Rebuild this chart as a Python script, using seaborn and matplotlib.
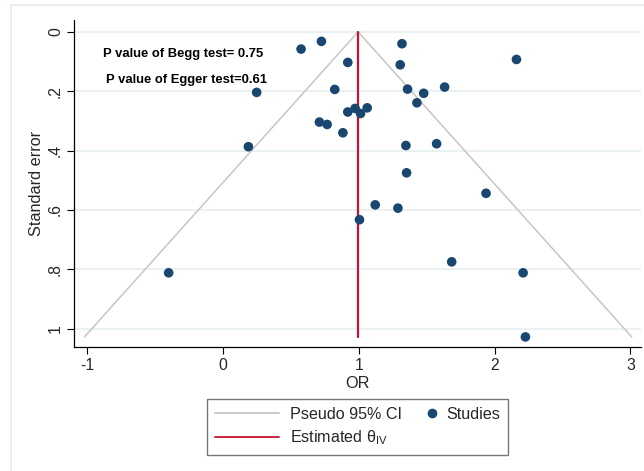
import numpy as np
import pandas as pd
import matplotlib
matplotlib.use("Agg")
import matplotlib.pyplot as plt
from matplotlib.lines import Line2D
from matplotlib.patches import Rectangle
from matplotlib.legend_handler import HandlerLine2D
import seaborn as sns

# ---- data ----
or_vals = [0.575, 0.725, 0.248, 0.187, 0.710, 0.767, 0.919, 0.823, 0.919, 0.973,
           1.013, 1.062, 0.883, 1.318, 1.305, 1.359, 1.478, 1.428, 1.632, 2.161,
           1.347, 1.573, 1.352, 1.937, 1.121, 1.288, 1.005, -0.400, 1.684, 2.210,
           2.227]
se_vals = [0.058, 0.032, 0.204, 0.387, 0.304, 0.312, 0.103, 0.194, 0.270, 0.258,
           0.275, 0.256, 0.340, 0.040, 0.111, 0.193, 0.207, 0.239, 0.186, 0.093,
           0.383, 0.377, 0.475, 0.544, 0.583, 0.594, 0.633, 0.812, 0.775, 0.812,
           1.028]
theta_iv = 0.995
x_ticks = [-1, 0, 1, 2, 3]
y_ticks = [0, 0.2, 0.4, 0.6, 0.8, 1.0]
y_ticklabels = ["0", ".2", ".4", ".6", ".8", "1"]
begg_text = "P value of Begg test= 0.75"
egger_text = "P value of Egger test=0.61"

df = pd.DataFrame({"OR": or_vals, "SE": se_vals})

sns.set_theme(style="white")
plt.rcParams["font.family"] = ["Liberation Sans", "DejaVu Sans"]
plt.rcParams["mathtext.fontset"] = "custom"
plt.rcParams["mathtext.rm"] = "Liberation Sans"
plt.rcParams["mathtext.it"] = "Liberation Sans:italic"

NAVY = "#1a476f"
GREY = "#c6c6c6"
RED = "#c4122f"

fig = plt.figure(figsize=(6.44, 4.71), dpi=100)
fig.patch.set_facecolor("white")
# light outer frame
fig.patches.append(Rectangle((11 / 644, -0.1), 1.2, (471 - 5) / 471 + 0.1,
                             transform=fig.transFigure, fill=False,
                             edgecolor="#e4ecee", linewidth=1.2))

ax = fig.add_axes([74 / 644, (471 - 347.3) / 471, (641 - 74) / 644, (347.3 - 20) / 471])
ax.set_facecolor("white")

# horizontal grid
for yt in y_ticks:
    ax.axhline(yt, color="#eaf1f3", linewidth=1.5, zorder=0)

# pseudo 95% CI funnel
se_max = max(se_vals)
fun = pd.DataFrame({
    "x": [theta_iv - 1.96 * se_max, theta_iv, theta_iv + 1.96 * se_max],
    "y": [se_max, 0.0, se_max],
})
ax.plot(fun["x"], fun["y"], color=GREY, linewidth=1.1, zorder=1)

# estimated theta line
ax.plot([theta_iv, theta_iv], [0, se_max], color=RED, linewidth=1.6, zorder=2)

sns.scatterplot(data=df, x="OR", y="SE", ax=ax, color=NAVY, s=48,
                edgecolor="none", zorder=3, legend=False)

ax.set_xlim(-1.097, 3.078)
ax.set_ylim(1.063, -0.04)

ax.set_xticks(x_ticks)
ax.set_xticklabels([str(t) for t in x_ticks], fontsize=11.3)
ax.set_yticks(y_ticks)
ax.set_yticklabels(y_ticklabels, fontsize=11.3, rotation=90, va="center")
ax.tick_params(axis="both", direction="out", length=5, width=0.8, color="black",
               left=True, bottom=True, pad=3)
ax.tick_params(axis="y", pad=3)

ax.set_xlabel("OR", fontsize=11.7, labelpad=2)
ax.set_ylabel("Standard error", fontsize=11.7, labelpad=3)

for side in ["top", "right"]:
    ax.spines[side].set_visible(False)
for side in ["left", "bottom"]:
    ax.spines[side].set_color("black")
    ax.spines[side].set_linewidth(0.9)

ax.text(-0.885, 0.075, begg_text, fontsize=9.4, fontweight="bold",
        ha="left", va="center", color="black")
ax.text(-0.863, 0.163, egger_text, fontsize=9.4, fontweight="bold",
        ha="left", va="center", color="black")


class NarrowMarkerHandler(HandlerLine2D):
    def legend_artist(self, legend, orig_handle, fontsize, handlebox):
        handlebox.width = 0.4 * fontsize
        return super().legend_artist(legend, orig_handle, fontsize, handlebox)


h_ci = Line2D([0], [0], color=GREY, linewidth=1.3)
h_est = Line2D([0], [0], color=RED, linewidth=1.3)
h_stud = Line2D([0], [0], marker="o", linestyle="none", markerfacecolor=NAVY,
                markeredgecolor="none", markersize=7)
handles = [h_ci, h_est, h_stud]
labels = ["Pseudo 95% CI", r"Estimated $\mathrm{\theta}_{\mathrm{IV}}$", "Studies"]
leg = fig.legend(handles, labels, ncol=2, loc="center",
                 bbox_to_anchor=(357.5 / 644, (471 - 427) / 471),
                 fontsize=11.6, frameon=True, fancybox=False, handlelength=4.0,
                 columnspacing=1.65, handletextpad=0.7, borderpad=0.45,
                 labelspacing=0.45,
                 handler_map={h_stud: NarrowMarkerHandler(numpoints=1)})
leg.get_frame().set_edgecolor("#555555")
leg.get_frame().set_linewidth(1.0)

fig.savefig("out.png", dpi=100, facecolor="white")
